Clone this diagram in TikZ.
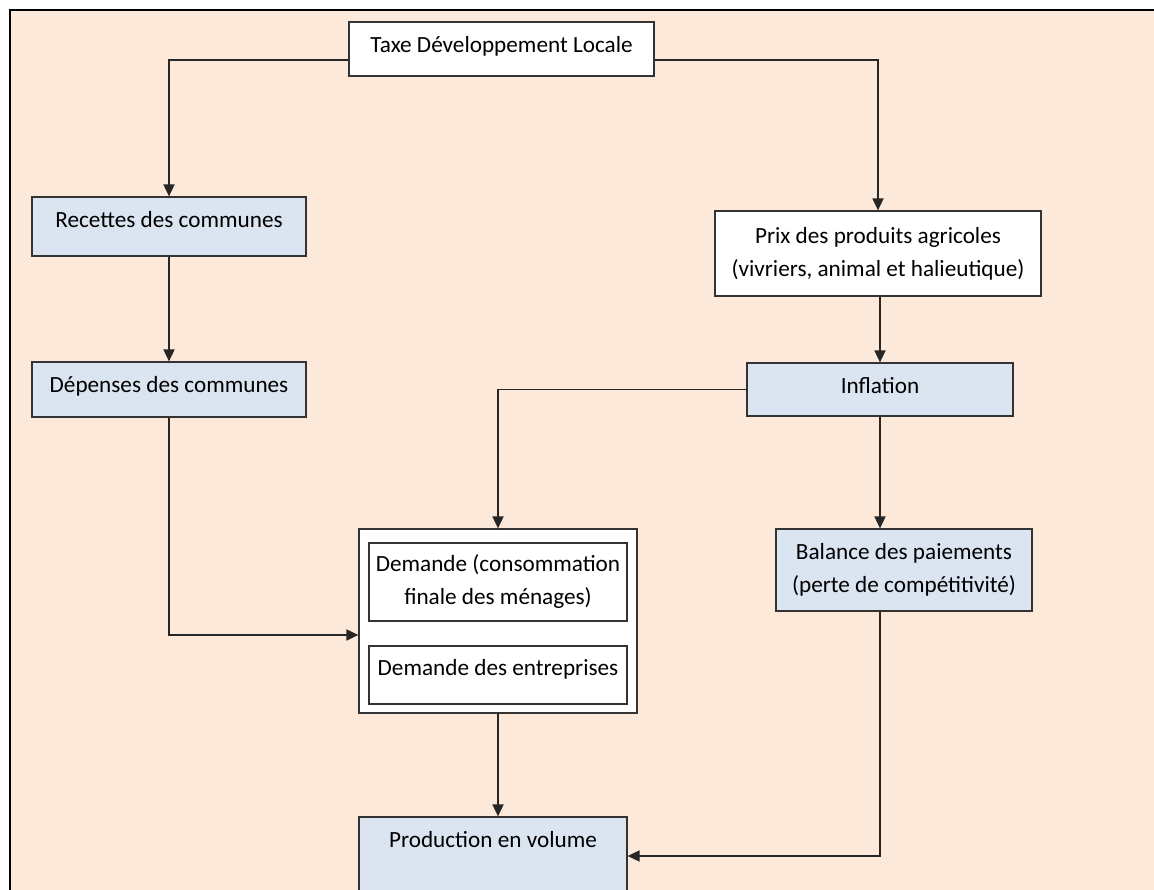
\documentclass[tikz,border=0pt]{standalone}
\usepackage{fontspec}
\setmainfont{Carlito}
\usetikzlibrary{arrows.meta, positioning, calc}
\definecolor{peach}{HTML}{FDE9D9}
\definecolor{paleblue}{HTML}{DBE5F1}

\begin{document}
\begin{tikzpicture}[x=1pt, y=-1pt, >={Triangle[length=12pt, width=11pt]},
        box/.style={draw=black!80, line width=1.2pt, fill=white, align=center, inner sep=0pt,
            font=\fontsize{23.2}{33}\selectfont},
        bluebox/.style={box, fill=paleblue},
        oneline/.style={text height=16pt, text depth=#1},
        oneline/.default=9pt,
        link/.style={line width=1.8pt, black!85}]
        \useasboundingbox (0,0) rectangle (1154,890);
        \clip (0,0) rectangle (1154,890);
        % Frame
        \draw[line width=2pt, fill=peach] (10,10) rectangle (1175,910);

        % Nodes
        \node[box, oneline, minimum width=305pt, minimum height=54pt] (taxe) at (501.5,49) {Taxe Développement Locale};

        \node[bluebox, oneline=13pt, minimum width=274pt, minimum height=59pt] (recettes) at (169,226.5) {Recettes des communes};
        \node[bluebox, oneline, minimum width=274pt, minimum height=55pt] (depenses) at (169,389.5) {Dépenses des communes};

        \node[box, minimum width=326pt, minimum height=85pt] (prix) at (878,253.5) {Prix des produits agricoles\\(vivriers, animal et halieutique)};
        \node[bluebox, oneline=7pt, minimum width=266pt, minimum height=53pt] (inflation) at (880,389.5) {Inflation};
        \node[bluebox, minimum width=256pt, minimum height=82pt] (balance) at (904,570) {Balance des paiements\\(perte de compétitivité)};

        \node[box, minimum width=278pt, minimum height=184pt] (demande) at (498,621) {};
        \node[box, minimum width=258pt, minimum height=78pt] (conso) at (498,582) {Demande (consommation\\finale des ménages)};
        \node[box, oneline=16pt, minimum width=258pt, minimum height=58pt] (entreprises) at (498,675) {Demande des entreprises};

        \node[bluebox, oneline=34pt, minimum width=268pt, minimum height=78pt] (production) at (493,856) {Production en volume};

        % Connectors
        \draw[link, ->] (taxe.west |- 0,60) -| (recettes.north);
        \draw[link, ->] (taxe.east |- 0,60) -| (prix.north);
        \draw[link, ->] (recettes) -- (depenses);
        \draw[link, ->] (depenses.south) |- (demande.west |- 0,635);
        \draw[link, ->] (prix.south -| inflation.north) -- (inflation.north);
        \draw[link, ->] (inflation.west) -| (demande.north);
        \draw[link, ->] (inflation.south) -- (inflation.south |- balance.north);
        \draw[link, ->] (demande.south) -- (demande.south |- production.north);
        \draw[link, ->] (balance.south -| inflation.south) |- (production.east);
    \end{tikzpicture}
\end{document}
